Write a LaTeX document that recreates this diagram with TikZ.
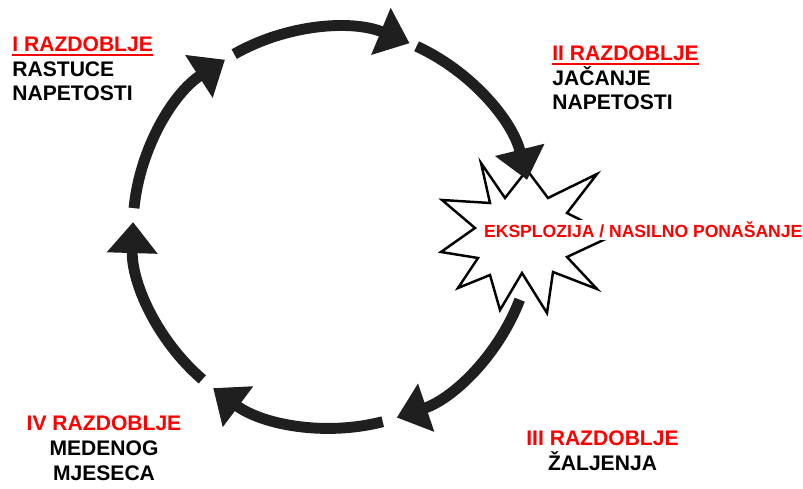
\documentclass[tikz,border=0pt]{standalone}
\usepackage{fontspec}
\setmainfont{Liberation Sans}
\usetikzlibrary{arrows.meta,calc}
\newcommand{\razul}[1]{\setbox0\hbox{#1}\rlap{\rule[-2.4pt]{\wd0}{1.3pt}}\box0}

\begin{document}
\begin{tikzpicture}[lbl/.style={inner sep=0pt,font=\bfseries\fontsize{12}{14}\selectfont},
  cyc/.style={line width=6.2pt,draw=black!88,-{Triangle[length=6.2mm,width=9.8mm]}}]
  \useasboundingbox (0,0) rectangle (16.06,9.76);
  \coordinate (c) at (6.66,5.2);

  % explosion
  \draw[line width=1.4pt,fill=white] (9.62,6.50) -- (10.10,5.80) -- (10.54,6.36) -- (10.96,5.80)
    -- (11.94,6.28) -- (11.34,5.50) -- (12.24,5.04) -- (11.34,4.62) -- (11.94,3.98)
    -- (11.06,4.32) -- (10.94,3.50) -- (10.44,4.30) -- (10.00,3.56) -- (9.80,4.26)
    -- (9.16,4.00) -- (9.56,4.60) -- (8.82,4.72) -- (9.50,5.20) -- (8.84,5.76)
    -- (9.80,5.70) -- cycle;
  \node[anchor=base west,inner sep=1pt,fill=white,text=red,font=\bfseries\fontsize{10}{12}\selectfont] (ex) at (9.64,5.0) {EKSPLOZIJA / NASILNO PONAŠANJE};

  % base anchor sits on the last line
  \node[lbl,anchor=base west,align=left] (p1) at (0.24,7.74) {{\color{red}\razul{I RAZDOBLJE}}\\RASTUCE\\NAPETOSTI};
  \node[lbl,anchor=base west,align=left] (p2) at (11.04,7.56) {{\color{red}\razul{II RAZDOBLJE}}\\JAČANJE\\NAPETOSTI};
  \node[lbl,anchor=base,align=center] (p3) at (12.05,0.36) {{\color{red}III RAZDOBLJE}\\ŽALJENJA};
  \node[lbl,anchor=base,align=center] (p4) at (2.08,0.16) {{\color{red}IV RAZDOBLJE}\\MEDENOG\\MJESECA};

  % cycle
  \coordinate (a1) at ($(c)+(119.6:4)$);
  \coordinate (a2) at ($(c)+(65.3:4)$);
  \coordinate (a3) at ($(c)+(-21:4)$);
  \coordinate (a4) at ($(c)+(-75.6:4)$);
  \coordinate (a5) at ($(c)+(-130.8:4)$);
  \coordinate (a6) at ($(c)+(174.3:4)$);

  \draw[cyc] (a1) arc[start angle=119.6,end angle=67.5,radius=4];
  \draw[cyc] (a2) arc[start angle=65.3,end angle=13.9,radius=4];
  \draw[cyc] (a3) arc[start angle=-21,end angle=-71.4,radius=4];
  \draw[cyc] (a4) arc[start angle=-75.6,end angle=-126.8,radius=4];
  \draw[cyc] (a5) arc[start angle=-130.8,end angle=-181.7,radius=4];
  \draw[cyc] (a6) arc[start angle=174.3,end angle=122.7,radius=4];
\end{tikzpicture}
\end{document}
